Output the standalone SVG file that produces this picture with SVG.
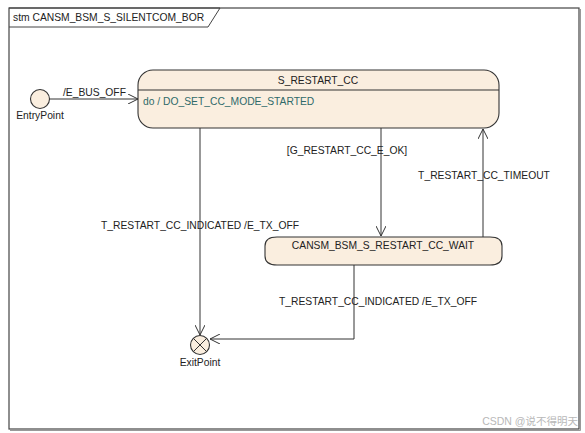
<svg xmlns="http://www.w3.org/2000/svg" width="585" height="433" viewBox="0 0 585 433">
<defs>
<style>
text{font-family:"Liberation Sans",Arial,sans-serif;font-size:10.3px;fill:#222}
.st{fill:#faeedf;stroke:#333;stroke-width:1.1}
.ln{fill:none;stroke:#333;stroke-width:1}
.do{fill:#2f6a6a}
</style>
<marker id="arr" viewBox="0 0 10 10" refX="10" refY="5" markerWidth="10" markerHeight="10" markerUnits="userSpaceOnUse" orient="auto">
<path d="M0,0 L10,5 L0,10" fill="none" stroke="#333" stroke-width="1"/>
</marker>
</defs>
<rect x="0" y="0" width="585" height="433" fill="#fff"/>
<g id="frame">
<rect x="9" y="8" width="570" height="421" fill="none" stroke="#444" stroke-width="1.2"/>
<path d="M580.5,9 V430.5 H10" fill="none" stroke="#999" stroke-width="1"/>
<path d="M9,8 H220 L208,27 H9" fill="none" stroke="#444" stroke-width="1"/>
<text x="13" y="21">stm CANSM_BSM_S_SILENTCOM_BOR</text>
</g>
<g id="connectors">
<path class="ln" d="M50,99 H138" marker-end="url(#arr)"/>
<text x="63" y="96">/E_BUS_OFF</text>
<path class="ln" d="M381,128 V236" marker-end="url(#arr)"/>
<text x="347" y="154" text-anchor="middle">[G_RESTART_CC_E_OK]</text>
<path class="ln" d="M483,237 V129" marker-end="url(#arr)"/>
<text x="484" y="179" text-anchor="middle">T_RESTART_CC_TIMEOUT</text>
<path class="ln" d="M200,128 V335" marker-end="url(#arr)"/>
<text x="200" y="229" text-anchor="middle">T_RESTART_CC_INDICATED /E_TX_OFF</text>
<path class="ln" d="M354,265 V339 H210" marker-end="url(#arr)"/>
<text x="378" y="305" text-anchor="middle">T_RESTART_CC_INDICATED /E_TX_OFF</text>
</g>
<g id="EntryPoint">
<circle class="st" cx="40" cy="99" r="9.5"/>
<text x="40" y="119" text-anchor="middle">EntryPoint</text>
</g>
<g id="S_RESTART_CC">
<rect class="st" x="138" y="70" width="361" height="58" rx="15" ry="15"/>
<path class="ln" d="M138,90 H499"/>
<text x="318" y="84" text-anchor="middle">S_RESTART_CC</text>
<text class="do" x="143" y="105">do / DO_SET_CC_MODE_STARTED</text>
</g>
<g id="CANSM_BSM_S_RESTART_CC_WAIT">
<path class="st" d="M277,237 H490 Q502,237 502,246 V256 Q502,265 490,265 H277 Q265,265 265,256 V246 Q265,237 277,237 Z"/>
<text x="383" y="249" text-anchor="middle">CANSM_BSM_S_RESTART_CC_WAIT</text>
</g>
<g id="ExitPoint">
<circle class="st" cx="200" cy="345" r="9.5"/>
<path class="ln" d="M193.3,338.3 L206.7,351.7 M206.7,338.3 L193.3,351.7"/>
<text x="200" y="366" text-anchor="middle">ExitPoint</text>
</g>
<text x="578" y="425" text-anchor="end" style="fill:#b8b8b8;font-size:10.5px;font-family:'Liberation Sans','Noto Sans CJK SC',sans-serif">CSDN @说不得明天</text>
</svg>
